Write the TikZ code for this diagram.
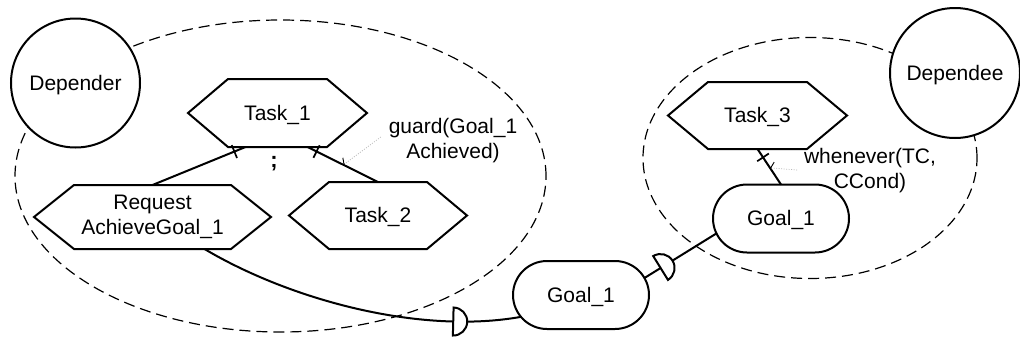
\documentclass[tikz,border=0pt]{standalone}
\usepackage{fontspec}
\setmainfont{Liberation Sans}
\usetikzlibrary{shapes.misc,decorations.markings,arrows.meta,calc}

% hexagonal outline of a task node (pointed left and right ends)
\newcommand\hexoutline[1]{(#1.west) -- ([xshift=40pt]#1.north west)
  -- ([xshift=-40pt]#1.north east) -- (#1.east)
  -- ([xshift=-40pt]#1.south east) -- ([xshift=40pt]#1.south west) -- cycle}

\begin{document}
\begin{tikzpicture}[x=1pt,y=1pt,
  every node/.style={font=\fontsize{21}{25}\selectfont, inner sep=0pt, outer sep=0pt},
  oneline/.style={text height=14pt, text depth=0pt},
  actor/.style={circle, draw, line width=2pt, fill=white, minimum size=#1, oneline},
  taskbox/.style={minimum width=#1, minimum height=68pt},
  goalbox/.style={rounded rectangle, draw, line width=2pt, fill=white,
    minimum width=136pt, minimum height=68pt, oneline},
  boundary/.style={line width=1.2pt, dash pattern=on 11pt off 6pt},
  outline/.style={line width=2pt, line join=miter},
  link/.style={line width=2pt},
  tick/.style={postaction={decorate, decoration={markings,
    mark=at position #1 with {\draw[line width=1.7pt] (0pt,-7pt) -- (0pt,7pt);}}}},
  depmark/.style={postaction={decorate, decoration={markings,
    mark=at position #1 with {\draw[line width=2pt, fill=white]
      (0pt,14pt) arc[start angle=90, end angle=-90, radius=14pt] -- cycle;}}}},
  pointer/.style={gray!55, line width=0.7pt, dash pattern=on 1pt off 1.5pt,
    -{Straight Barb[right, length=3pt, width=12pt, color=black, line width=0.9pt]}}
]
\useasboundingbox (0,0) rectangle (1020,-341);

% actor boundaries
\draw[boundary] (280.5,-176) ellipse [x radius=265.5, y radius=156];
\draw[boundary] (810,-158) ellipse [x radius=167, y radius=120.5];

% actors
\node[actor=129pt] (dep) at (75.5,-83) {Depender};
\node[actor=130pt] (dee) at (955,-73) {Dependee};

% tasks
\node[taskbox=179pt, oneline] (t1) at (277.5,-113) {Task\_1};
\node[taskbox=237pt, minimum height=64pt, align=center] (req) at (152.5,-217) {Request\\AchieveGoal\_1};
\node[taskbox=178pt, minimum height=67pt, oneline] (t2) at (378,-215.5) {Task\_2};
\node[taskbox=179pt, minimum height=67pt, oneline] (t3) at (757.5,-115.5) {Task\_3};
\draw[outline] \hexoutline{t1};
\draw[outline] \hexoutline{req};
\draw[outline] \hexoutline{t2};
\draw[outline] \hexoutline{t3};

% goals
\node[goalbox] (goalA) at (581,-295) {Goal\_1};
\node[goalbox] (goalB) at (781,-218.5) {Goal\_1};

% decomposition links
\draw[link, tick=-12pt] (req.north) -- ([xshift=-32pt]t1.south);
\draw[link, tick=-10pt] (t2.north) -- coordinate[pos=0.49] (gp) ([xshift=30pt]t1.south);
\draw[link, tick=-10pt] (goalB.north) -- coordinate[pos=0.47] (wp) (t3.south);
\node[font=\bfseries\fontsize{22}{25}\selectfont] (seq) at (274,-164) {;};

% dependency links
\draw[link, depmark=-68pt] ([xshift=52pt]req.south)
  .. controls +(86,-51) and +(-101,-18) .. (goalA.200);
\draw[link, depmark=19pt] (goalA.15) -- (goalB.193);

% annotations
\node[align=center] (gl) at (453,-141) {guard(Goal\_1\\Achieved)};
\draw[pointer] ([xshift=-8pt,yshift=4pt]gl.west) -- (gp);
\node[align=center] (wl) at (870,-171) {whenever(TC,\\CCond)};
\draw[pointer] ([xshift=-7pt,yshift=1pt]wl.west) -- (wp);
\end{tikzpicture}
\end{document}
